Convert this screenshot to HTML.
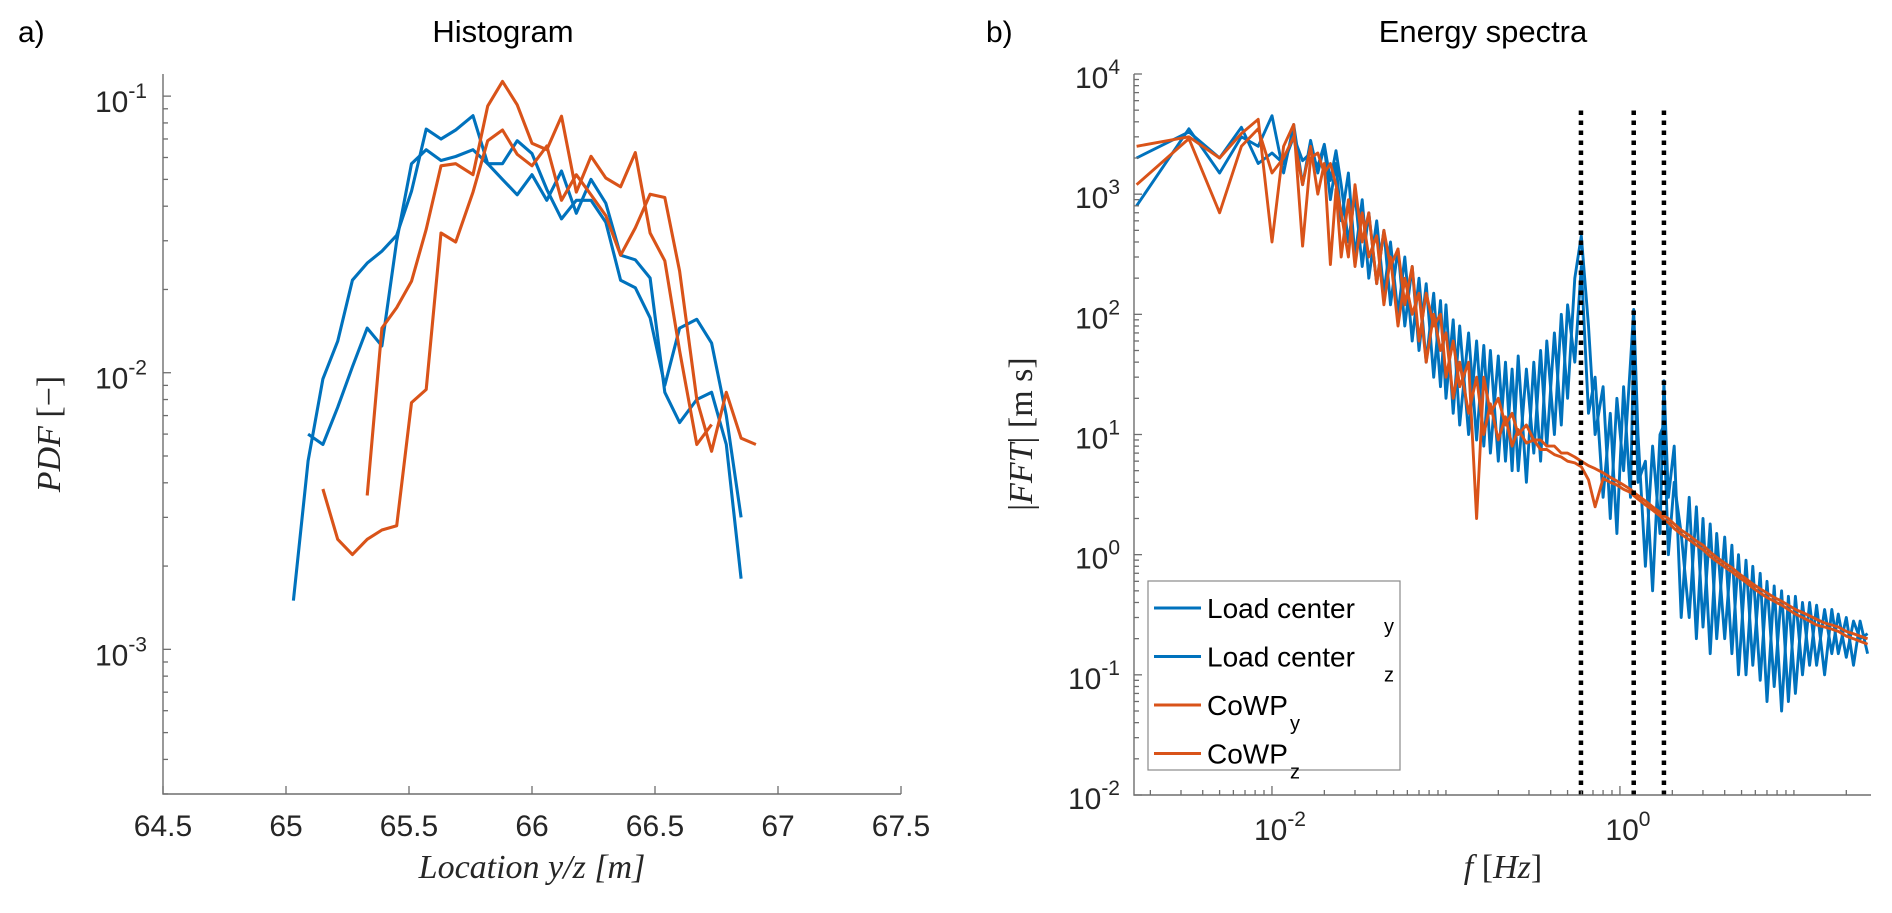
<!DOCTYPE html>
<html><head><meta charset="utf-8">
<style>
html,body{margin:0;padding:0;background:#fff;}
svg{display:block;font-family:"Liberation Sans",Arial,sans-serif;}
</style></head>
<body>
<svg id="fig" width="1892" height="913" viewBox="0 0 1892 913" xmlns="http://www.w3.org/2000/svg">
  <text x="18" y="42" font-size="30" fill="#000">a)</text>
  <text x="503" y="42" font-size="31" fill="#000" text-anchor="middle">Histogram</text>
  <text x="986" y="42" font-size="30" fill="#000">b)</text>
  <text x="1483" y="42" font-size="31" fill="#000" text-anchor="middle">Energy spectra</text>
  <g id="left"></g>
  <g id="right"></g>
  <text x="532" y="878" font-size="34" font-style="italic" font-family="Liberation Serif,serif" text-anchor="middle" fill="#262626">Location y/z [m]</text>
  <text transform="translate(60,434) rotate(-90)" font-size="34" font-family="Liberation Serif,serif" text-anchor="middle" fill="#262626"><tspan font-style="italic">PDF</tspan> [−]</text>
  <text x="1503" y="878" font-size="34" font-family="Liberation Serif,serif" text-anchor="middle" fill="#262626"><tspan font-style="italic">f</tspan> [<tspan font-style="italic">Hz</tspan>]</text>
  <text transform="translate(1032,434) rotate(-90)" font-size="34" font-family="Liberation Serif,serif" text-anchor="middle" fill="#262626">|<tspan font-style="italic">FFT</tspan>| [m s]</text>
</svg>
<script>
// ---------- Histogram data ----------
const binCenters = [65.03,65.09,65.15,65.21,65.27,65.33,65.39,65.45,65.51,65.57,65.63,65.69,65.76,65.82,65.88,65.94,66.00,66.06,66.12,66.18,66.24,66.30,66.36,66.42,66.48,66.54,66.60,66.67,66.73,66.79,66.85,66.91];
const pdfLoadY = [null,0.006,0.0055,0.0075,0.0105,0.0145,0.0125,0.03,0.057,0.064,0.0585,0.0605,0.064,0.057,0.057,0.069,0.062,0.046,0.036,0.042,0.042,0.035,0.0216,0.0203,0.0158,0.009,0.0145,0.0156,0.0128,0.007,0.003,null];
const pdfLoadZ = [0.0015,0.0048,0.0095,0.013,0.0216,0.0249,0.0275,0.0314,0.0453,0.076,0.070,0.0754,0.085,0.057,0.050,0.044,0.052,0.042,0.0536,0.0377,0.050,0.041,0.0266,0.0256,0.022,0.0085,0.0066,0.008,0.0085,0.0055,0.0018,null];
const pdfCowpY = [null,null,null,null,null,0.0036,0.0145,0.0172,0.0214,0.033,0.056,0.057,0.052,0.092,0.113,0.093,0.0675,0.064,0.0846,0.045,0.0606,0.0506,0.047,0.0625,0.032,0.0254,0.012,0.0055,0.0065,null,null,null];
const pdfCowpZ = [null,null,0.0038,0.0025,0.0022,0.0025,0.0027,0.0028,0.0078,0.0087,0.032,0.0297,0.045,0.069,0.0754,0.0616,0.056,0.066,0.042,0.052,0.044,0.037,0.0266,0.0334,0.0442,0.043,0.0233,0.008,0.0052,0.0085,0.0058,0.0055];
const histXTicks = [64.5,65,65.5,66,66.5,67,67.5];
const histXTickLabels = ["64.5","65","65.5","66","66.5","67","67.5"];
const histYDecades = [-3,-2,-1];

// ---------- Spectra data ----------
const freqs = [0.001667,0.00333,0.005,0.00667,0.00833,0.01,0.01167,0.01333,0.015,0.01667,0.01833,0.02,0.02167,0.02333,
0.025,0.0275,0.03,0.033,0.036,0.04,0.044,0.048,0.053,0.058,0.064,0.07,0.077,0.085,0.093,0.10,0.11,0.12,0.135,0.15,0.165,0.18,0.2,0.22,0.24,0.26,0.29,0.32,0.35,0.38,0.42,0.46,0.5,0.55,0.6,0.66,0.72,0.8,0.88,0.96,1.05,1.15,1.2,1.27,1.4,1.54,1.7,1.79,1.9,2.05,2.25,2.5,2.75,3.0,3.3,3.6,4.0,4.4,4.8,5.3,5.8,6.4,7.0,7.7,8.5,9.3,10.2,11.2,12.3,13.5,15,16.5,18,20,22,24,26.5];
const fftLoadY = [800,3500,1500,3000,2500,4500,1500,3800,1200,2800,1500,2500,900,1800,
600,1500,300,900,200,600,150,400,100,300,60,200,40,150,25,120,15,80,10,60,8,50,6,40,5,45,4,40,6,60,10,100,20,200,450,80,10,25,2,20,5,40,110,10,0.8,8,1.5,28,3,8,0.3,3,0.2,2,0.15,1.5,0.2,1.2,0.1,0.9,0.12,0.7,0.06,0.55,0.05,0.45,0.07,0.4,0.12,0.38,0.1,0.35,0.15,0.3,0.12,0.28,0.15];
const fftLoadZ = [2000,3300,2000,3600,1800,2200,1800,3000,1900,2200,1700,2600,1300,2300,
1200,400,1000,250,700,180,500,120,350,80,250,50,180,30,130,20,90,12,70,9,55,7,45,6,35,5,35,7,50,8,70,12,120,40,250,15,30,3,15,1.5,25,3,60,4,6,0.5,10,12,1,4,1.5,0.3,2.5,0.25,1.8,0.2,1.4,0.15,1,0.1,0.8,0.09,0.6,0.08,0.5,0.06,0.45,0.1,0.4,0.12,0.35,0.15,0.32,0.14,0.28,0.2,0.22];
const fftCowpY = [2500,3000,2000,3200,4200,400,2500,3800,370,2000,2200,1500,1800,1200,
700,300,1200,400,700,180,500,250,350,120,250,60,150,80,100,30,60,25,40,2,30,15,20,12,15,10,12,9,9,8,8,7,7,6.5,6,5.5,5.2,4.8,4.4,4.1,3.8,3.5,3.3,3.1,2.8,2.5,2.25,2.1,2.0,1.8,1.6,1.45,1.3,1.2,1.05,0.95,0.85,0.78,0.7,0.63,0.57,0.52,0.48,0.44,0.41,0.38,0.35,0.33,0.31,0.29,0.27,0.26,0.25,0.23,0.22,0.21,0.2];
const fftCowpZ = [1200,2900,700,2500,3500,1500,2000,3000,1200,2500,1000,1800,260,1100,
300,900,250,700,300,450,120,300,80,200,100,150,40,100,50,70,20,40,15,30,10,18,9,14,8,11,8.5,9,7.5,7.5,6.8,6.5,6,5.8,5.4,4.2,2.5,4.3,4.0,3.8,3.5,3.3,3.1,2.9,2.6,2.35,2.1,1.95,1.85,1.65,1.48,1.33,1.2,1.1,0.97,0.88,0.79,0.72,0.65,0.59,0.53,0.48,0.44,0.41,0.38,0.35,0.32,0.3,0.28,0.26,0.25,0.24,0.23,0.21,0.2,0.19,0.18];
const markerFreqs = [0.597,1.2,1.79];
const markerTop = 5000;
const specXDecades = [-2,0];
const specYDecades = [-2,-1,0,1,2,3,4];
const legendLabels = ["Load center","Load center","CoWP","CoWP"];
const legendSubs = ["y","z","y","z"];

const NS = "http://www.w3.org/2000/svg";
const BLUE = "#0072BD", ORANGE = "#D95319", AX = "#6e6e6e";
function mk(parent, tag, attrs){ const e=document.createElementNS(NS,tag); for(const k in attrs) e.setAttribute(k,attrs[k]); parent.appendChild(e); return e; }

// ---------- Left axes ----------
const L = {x0:163,x1:901,y0:74,y1:794,xmin:64.5,xmax:67.5,lmin:-3.523,lmax:-0.920};
const lx = v => L.x0 + (v-L.xmin)/(L.xmax-L.xmin)*(L.x1-L.x0);
const ly = v => L.y1 - (Math.log10(v)-L.lmin)/(L.lmax-L.lmin)*(L.y1-L.y0);
const gl = document.getElementById('left');
const lax = mk(gl,'path',{d:`M${L.x0},${L.y0} V${L.y1} H${L.x1}`,stroke:AX,'stroke-width':1.4,fill:'none'});


histXTicks.forEach((t,i)=>{
  const x=lx(t);
  mk(gl,'line',{x1:x,x2:x,y1:L.y1,y2:L.y1-8,stroke:AX,'stroke-width':1.3});
  const tx=mk(gl,'text',{x:x,y:836,'font-size':30,'text-anchor':'middle',fill:'#262626'});
  tx.textContent=histXTickLabels[i];
  
  
});
for(let d=-4; d<=-1; d++){
  for(let m=1;m<=9;m++){
    const v=m*Math.pow(10,d), lv=Math.log10(v);
    if(lv<L.lmin-1e-6||lv>L.lmax) continue;
    const y=ly(v);
    mk(gl,'line',{x1:L.x0,x2:L.x0+(m===1?8:5),y1:y,y2:y,stroke:AX,'stroke-width':1.3});
  }
}
histYDecades.forEach(d=>{
  const y=ly(Math.pow(10,d));
  const t=mk(gl,'text',{x:L.x0-16,y:y+16,'font-size':30,'text-anchor':'end',fill:'#262626'});
  
  
  const a=document.createElementNS(NS,'tspan'); a.textContent='10'; t.appendChild(a);
  const b=document.createElementNS(NS,'tspan'); b.setAttribute('dy','-14'); b.setAttribute('font-size','21'); b.textContent=String(d); t.appendChild(b);
});
function histLine(vals,color,name){
  let d='', pen=false;
  vals.forEach((v,i)=>{ if(v==null){pen=false;return;} d+=(pen?'L':'M')+lx(binCenters[i]).toFixed(1)+','+ly(v).toFixed(1)+' '; pen=true; });
  const p=mk(gl,'path',{d:d,stroke:color,'stroke-width':3.1,fill:'none','stroke-linejoin':'round'});
  
  
}
histLine(pdfLoadY,BLUE,'pdf-load-center-y');
histLine(pdfLoadZ,BLUE,'pdf-load-center-z');
histLine(pdfCowpY,ORANGE,'pdf-cowp-y');
histLine(pdfCowpZ,ORANGE,'pdf-cowp-z');

// ---------- Right axes ----------
const R = {x0:1134,x1:1871,y0:74,y1:795,fmin:-2.793,fmax:1.443,lmin:-2,lmax:4};
const rx = f => R.x0 + (Math.log10(f)-R.fmin)/(R.fmax-R.fmin)*(R.x1-R.x0);
const ry = v => R.y1 - (Math.log10(v)-R.lmin)/(R.lmax-R.lmin)*(R.y1-R.y0);
const gr = document.getElementById('right');
const clip = mk(gr,'clipPath',{id:'rclip'});
mk(clip,'rect',{x:R.x0,y:R.y0-5,width:R.x1-R.x0,height:R.y1-R.y0+5});
function specLine(vals,color,name){
  let d='';
  vals.forEach((v,i)=>{ if(i>=freqs.length) return; d+=(i?'L':'M')+rx(freqs[i]).toFixed(1)+','+ry(v).toFixed(1)+' '; });
  const p=mk(gr,'path',{d:d,stroke:color,'stroke-width':2.9,fill:'none','stroke-linejoin':'round','clip-path':'url(#rclip)'});
  
  
}
specLine(fftLoadY,BLUE,'fft-load-center-y');
specLine(fftLoadZ,BLUE,'fft-load-center-z');
specLine(fftCowpY,ORANGE,'fft-cowp-y');
specLine(fftCowpZ,ORANGE,'fft-cowp-z');
markerFreqs.forEach(f=>{
  const x=rx(f);
  const l=mk(gr,'line',{x1:x,x2:x,y1:R.y1,y2:ry(markerTop),stroke:'#000','stroke-width':4.5,'stroke-dasharray':'4.5 5.5'});
  
  
});
const rax = mk(gr,'path',{d:`M${R.x0},${R.y0} V${R.y1} H${R.x1}`,stroke:AX,'stroke-width':1.4,fill:'none'});


for(let d=-3; d<=1; d++){
  for(let m=1;m<=9;m++){
    const f=m*Math.pow(10,d), lf=Math.log10(f);
    if(lf<R.fmin||lf>R.fmax) continue;
    const x=rx(f);
    const major = m===1 && specXDecades.includes(d);
    mk(gr,'line',{x1:x,x2:x,y1:R.y1,y2:R.y1-(major?9:5),stroke:AX,'stroke-width':1.3});
  }
}
specXDecades.forEach(d=>{
  const x=rx(Math.pow(10,d));
  const t=mk(gr,'text',{x:x+8,y:840,'font-size':30,'text-anchor':'middle',fill:'#262626'});
  
  
  const a=document.createElementNS(NS,'tspan'); a.textContent='10'; t.appendChild(a);
  const b=document.createElementNS(NS,'tspan'); b.setAttribute('dy','-14'); b.setAttribute('font-size','21'); b.textContent=String(d); t.appendChild(b);
});
for(let d=-2; d<=4; d++){
  for(let m=1;m<=9;m++){
    const v=m*Math.pow(10,d), lv=Math.log10(v);
    if(lv>R.lmax+1e-6) continue;
    const y=ry(v);
    mk(gr,'line',{x1:R.x0,x2:R.x0+(m===1?8:5),y1:y,y2:y,stroke:AX,'stroke-width':1.3});
  }
}
specYDecades.forEach(d=>{
  const y=ry(Math.pow(10,d));
  const t=mk(gr,'text',{x:R.x0-14,y:y+14,'font-size':30,'text-anchor':'end',fill:'#262626'});
  
  
  const a=document.createElementNS(NS,'tspan'); a.textContent='10'; t.appendChild(a);
  const b=document.createElementNS(NS,'tspan'); b.setAttribute('dy','-14'); b.setAttribute('font-size','21'); b.textContent=String(d); t.appendChild(b);
});

// Legend
const lg = mk(gr,'g',{});


mk(lg,'rect',{x:1148,y:581,width:252,height:189,fill:'#fff',stroke:'#8a8a8a','stroke-width':1.2});
const legendColors=[BLUE,BLUE,ORANGE,ORANGE];
legendLabels.forEach((lab,i)=>{
  const y=608+i*48.5;
  const e=mk(lg,'g',{});
  
  
  mk(e,'line',{x1:1154,x2:1201,y1:y,y2:y,stroke:legendColors[i],'stroke-width':3.1});
  const t=mk(e,'text',{x:1207,y:y+10,'font-size':28,fill:'#000'});
  t.textContent=lab;
  const sx = i<2 ? 1384 : 1290;
  const s=mk(e,'text',{x:sx,y:y+25,'font-size':20,fill:'#000'});
  s.textContent=legendSubs[i];
});
</script>
</body></html>
